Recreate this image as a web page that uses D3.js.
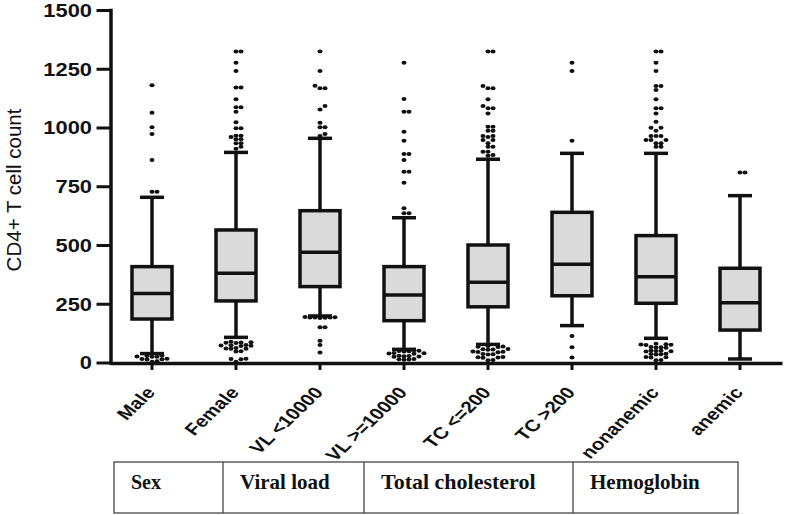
<!DOCTYPE html>
<html>
<head>
<meta charset="utf-8">
<script src="https://cdn.jsdelivr.net/npm/d3@7"></script>
<style>
  body { margin: 0; background: #fff; }
  svg { display: block; }
  .axis text { font-family: "Liberation Sans", Arial, sans-serif; font-weight: bold; fill: #111; }
  .group-label { font-family: "Liberation Serif", "Times New Roman", serif; font-weight: bold; fill: #111; }
</style>
</head>
<body>
<svg id="chart" width="787" height="515"></svg>
<script>
// values
const categories = ["Male", "Female", "VL <10000", "VL >=10000", "TC <=200", "TC >200", "nonanemic", "anemic"];
const q1 = [185, 262, 323, 178, 237, 284, 252, 138];
const medians = [294, 380, 469, 287, 341, 418, 365, 254];
const q3 = [408, 564, 646, 408, 500, 639, 540, 401];
const whiskerLow = [38, 107, 198, 56, 77, 157, 103, 15];
const whiskerHigh = [703, 894, 954, 616, 865, 890, 890, 710];
const outliers = [
  [1180, 1063, 1001, 972, 862, 727, 727, 30, 28, 26, 25, 24, 16, 15, 14, 13, 5, 3],
  [1323, 1323, 1276, 1240, 1170, 1170, 1120, 1086, 1086, 1067, 1022, 997, 997, 965, 965, 960, 950, 950, 933, 933, 918, 910,
   88, 86, 85, 84, 83, 74, 73, 72, 71, 70, 62, 60, 59, 58, 48, 47, 16, 15, 14, 3],
  [1323, 1240, 1178, 1167, 1167, 1091, 1077, 1020, 1001, 1001, 972, 964,
   194, 193, 192, 192, 191, 190, 189, 150, 150, 93, 74, 43],
  [1276, 1121, 1067, 1067, 982, 944, 887, 887, 862, 812, 812, 765, 656, 635, 635,
   52, 50, 49, 48, 47, 40, 39, 38, 37, 29, 28, 27, 26, 25, 15, 14, 13, 12],
  [1323, 1323, 1177, 1167, 1167, 1120, 1091, 1082, 1082, 1060, 1003, 1003, 986, 986, 964, 964, 960, 947, 947, 933, 918, 918, 897, 897, 883, 880,
   70, 68, 67, 66, 57, 56, 55, 54, 47, 46, 45, 44, 36, 35, 34, 23, 22, 21, 20, 11, 10],
  [1276, 1240, 944, 113, 65, 21],
  [1323, 1323, 1276, 1240, 1177, 1177, 1160, 1120, 1082, 1082, 1060, 1025, 999, 999, 986, 964, 964, 964, 947, 947, 947, 933, 933, 918, 918,
   80, 78, 77, 76, 75, 66, 65, 64, 63, 51, 50, 49, 48, 47, 37, 36, 35, 34, 23, 22, 21, 11, 10],
  [809, 809]
];
const yTicks = [0, 250, 500, 750, 1000, 1250, 1500];
const yTitle = "CD4+ T cell count";
const groups = ["Sex", "Viral load", "Total cholesterol", "Hemoglobin"];

// layout
const ink = "#111";
const stretch = 1.25;          // the source figure is stretched sideways
const tableEdges = [114, 223, 364, 573, 738];
const groupFont = [20, 21, 22, 21];

const svg = d3.select("#chart");

const y = d3.scaleLinear().domain([0, 1500]).range([362.5, 10]);
const x = d3.scaleBand().domain(categories).range([110, 782]);
const cx = d => x(d) + x.bandwidth() / 2;

// y axis
const yAxis = svg.append("g")
    .attr("class", "axis")
    .attr("transform", "translate(110.5,0)")
    .call(d3.axisLeft(y).tickValues(yTicks).tickSize(14).tickSizeOuter(0).tickFormat(d3.format("d")));
yAxis.select(".domain").attr("stroke", ink).attr("stroke-width", 3.5).attr("stroke-linecap", "square");
yAxis.selectAll(".tick line").attr("stroke", ink).attr("stroke-width", 3);
yAxis.selectAll(".tick text")
    .attr("x", -18.5 / stretch)
    .attr("dy", "0.36em")
    .attr("transform", `scale(${stretch},1)`)
    .style("font-size", "17.5px");

// x axis
const xAxis = svg.append("g")
    .attr("class", "axis")
    .attr("transform", "translate(0,363)")
    .call(d3.axisBottom(x).tickSize(7).tickSizeOuter(0));
xAxis.select(".domain").attr("stroke", ink).attr("stroke-width", 3.5);
xAxis.selectAll(".tick line").attr("stroke", ink).attr("stroke-width", 3);
xAxis.selectAll(".tick text")
    .attr("x", 0).attr("y", 0).attr("dy", 0)
    .attr("text-anchor", "end")
    .attr("transform", `translate(4,30) scale(${stretch},1) rotate(-50)`)
    .style("font-size", "16.5px");

// y title
svg.append("text")
    .attr("transform", "translate(21,190) rotate(-90)")
    .attr("text-anchor", "middle")
    .style("font-family", "'Liberation Sans', Arial, sans-serif")
    .style("font-size", "20.5px")
    .attr("fill", ink)
    .text(yTitle);

// boxes
const boxes = svg.append("g");
const half = 20, cap = 12;
categories.forEach((c, i) => {
  const g = boxes.append("g").attr("stroke", ink).attr("stroke-width", 3.5);
  const xc = cx(c);
  g.append("line").attr("x1", xc).attr("x2", xc).attr("y1", y(whiskerLow[i])).attr("y2", y(whiskerHigh[i]));
  [whiskerLow[i], whiskerHigh[i]].forEach(v => {
    g.append("line").attr("x1", xc - cap).attr("x2", xc + cap).attr("y1", y(v)).attr("y2", y(v));
  });
  g.append("rect")
      .attr("x", xc - half).attr("width", half * 2)
      .attr("y", y(q3[i])).attr("height", y(q1[i]) - y(q3[i]))
      .attr("fill", "#dadada");
  g.append("line").attr("x1", xc - half).attr("x2", xc + half).attr("y1", y(medians[i])).attr("y2", y(medians[i]));
});

// outliers, spread sideways so they do not overlap
function swarm(vals, xc) {
  const placed = [];
  const step = 5;
  vals.slice().sort((a, b) => a - b).forEach(v => {
    const py = y(v);
    for (let k = 0; k < 60; k++) {
      const off = k === 0 ? 0 : (k % 2 ? 1 : -1) * Math.ceil(k / 2) * step;
      const px = xc + off;
      const free = placed.every(p => ((p.x - px) / 4.8) ** 2 + ((p.y - py) / 3.4) ** 2 >= 1);
      if (free) { placed.push({x: px, y: py}); break; }
    }
  });
  return placed;
}

const dots = svg.append("g").attr("fill", ink);
categories.forEach((c, i) => {
  dots.selectAll(null)
    .data(swarm(outliers[i], cx(c)))
    .enter().append("ellipse")
      .attr("cx", d => d.x).attr("cy", d => d.y)
      .attr("rx", 2.5).attr("ry", 2);
});

// grouping table under the chart
const table = svg.append("g");
table.append("rect")
    .attr("x", tableEdges[0]).attr("y", 462)
    .attr("width", tableEdges[tableEdges.length - 1] - tableEdges[0]).attr("height", 51)
    .attr("fill", "none").attr("stroke", "#444").attr("stroke-width", 1.3);
tableEdges.slice(1, -1).forEach(e => {
  table.append("line").attr("x1", e).attr("x2", e).attr("y1", 462).attr("y2", 513)
      .attr("stroke", "#444").attr("stroke-width", 1.3);
});
groups.forEach((gname, i) => {
  table.append("text")
      .attr("class", "group-label")
      .attr("x", tableEdges[i] + 17).attr("y", 489)
      .style("font-size", groupFont[i] + "px")
      .text(gname);
});
</script>
</body>
</html>
